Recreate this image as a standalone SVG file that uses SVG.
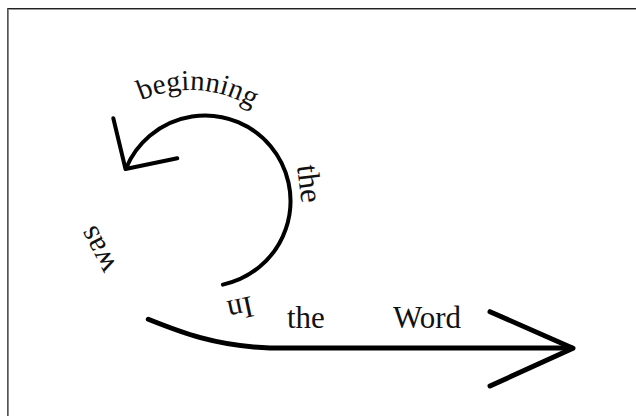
<svg xmlns="http://www.w3.org/2000/svg" width="636" height="416" viewBox="0 0 636 416">
  <style>
    .w { font-family: "Liberation Serif", "Times New Roman", serif; font-size: 31px; fill: #111; }
    .stroke { fill: none; stroke: #000; stroke-linecap: round; stroke-linejoin: round; }
  </style>
  <defs>
    <path id="beginPath" d="M141.2,100.4 A120,120 0 0 1 310,210"/>
  </defs>
  <rect x="0" y="0" width="636" height="416" fill="#fff"/>
  <g id="frame">
    <rect x="7" y="8" width="629" height="1" fill="#222"/>
    <rect x="7" y="9" width="629" height="1" fill="#999"/>
    <rect x="7" y="8" width="1" height="408" fill="#555"/>
    <rect x="8" y="9" width="1" height="407" fill="#888"/>
  </g>
  <g id="connectors">
    <g id="circular-arrow">
      <path class="stroke" stroke-width="4" d="M222.9,284.6 A85.5,85.5 0 1 0 125.95,168.4"/>
      <path class="stroke" stroke-width="4" d="M113.3,118.3 L125.5,169 L177.3,158.3"/>
    </g>
    <g id="straight-arrow">
      <path class="stroke" stroke-width="5" d="M148.3,319.3 C180,332 215,346 270,348 L572,348"/>
      <path class="stroke" stroke-width="5" d="M490,311.7 L573,348.3 L490,386"/>
    </g>
  </g>
  <g id="word-in">
    <text class="w" transform="translate(251,296) rotate(168)">In</text>
  </g>
  <g id="word-the-1">
    <text class="w" transform="translate(297,166) rotate(83)">the</text>
  </g>
  <g id="word-beginning">
    <text class="w" style="font-size:29px"><textPath href="#beginPath">beginning</textPath></text>
  </g>
  <g id="word-was">
    <text class="w" transform="translate(117,267) rotate(243)">was</text>
  </g>
  <g id="word-the-2">
    <text class="w" x="287" y="328">the</text>
  </g>
  <g id="word-word">
    <text class="w" x="393" y="328">Word</text>
  </g>
</svg>
